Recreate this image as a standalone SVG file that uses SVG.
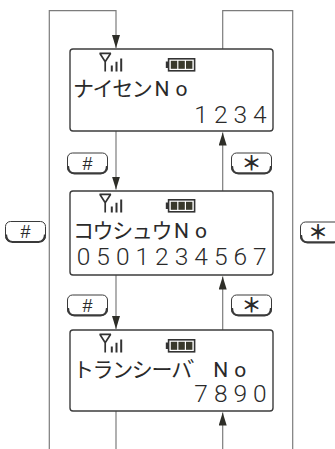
<svg xmlns="http://www.w3.org/2000/svg" xmlns:xlink="http://www.w3.org/1999/xlink" width="335" height="449" viewBox="0 0 335 449">
<style>
.box{fill:#fff;stroke:#3c3c3c;stroke-width:1.4}
.ln{fill:none;stroke:#7c7c7c;stroke-width:1.2}
.lcd{font-family:Roboto,"Noto Sans CJK JP",sans-serif;font-weight:400;fill:#2a2a2a;text-anchor:middle}
.t1{font-size:21px}
.dg{font-size:24.5px;font-weight:300}
.key{fill:#fff;stroke:#3a3a3a;stroke-width:1}
.keyb{fill:none;stroke:#3a3a3a;stroke-width:2}
.ks{font-family:"Liberation Sans","Noto Sans CJK JP",sans-serif;fill:#2a2a2a;text-anchor:middle}
.hs{font-size:18px}
.st{font-family:"Noto Sans CJK JP",sans-serif;font-size:20px;font-weight:700}
.ic{stroke:#333;stroke-width:1.7;fill:none}
</style>
<defs>
<marker id="ah" markerUnits="userSpaceOnUse" markerWidth="14" markerHeight="9" refX="13" refY="4" orient="auto">
<path d="M0,0 L13,4 L0,8 z" fill="#2e2e28"/>
</marker>
<g id="icons">
<path class="ic" d="M99.5,4.3 H111 M99.8,4.3 L105.2,12.8 L110.7,4.3 M105.2,12.8 V22.5"/>
<path d="M111.8,16.5 V22.5 M116.5,12.8 V22.5 M121.2,9.5 V22.5" stroke="#333" stroke-width="2" fill="none"/>
<rect x="165.8" y="12.5" width="2.8" height="6.5" fill="#333"/>
<rect x="168.6" y="9.8" width="26" height="12" fill="#fff" stroke="#333" stroke-width="1.6"/>
<rect x="170.8" y="11.8" width="6.4" height="8" fill="#3a3a2c"/>
<rect x="178.4" y="11.8" width="6.4" height="8" fill="#3a3a2c"/>
<rect x="186" y="11.8" width="6.4" height="8" fill="#3a3a2c"/>
</g>
<g id="keyshape">
<rect class="key" x="0" y="0" width="40" height="20" rx="5"/>
<path class="keyb" d="M0.6,13 Q0.8,20.3 7,20.5 H33 Q39.2,20.3 39.4,13"/>
</g>
</defs>
<rect width="335" height="449" fill="#fff"/>
<g id="connectors">
<path class="ln" d="M49.3,449 V10.7 H116 V48" marker-end="url(#ah)"/>
<path class="ln" d="M222.7,49 V10.7 H292.7 V449"/>
<path class="ln" d="M116,131 V189.5" marker-end="url(#ah)"/>
<path class="ln" d="M222.7,191 V132.5" marker-end="url(#ah)"/>
<path class="ln" d="M116,275 V329" marker-end="url(#ah)"/>
<path class="ln" d="M222.7,330 V276.5" marker-end="url(#ah)"/>
<path class="ln" d="M116,411 V449"/>
<path class="ln" d="M222.7,449 V412.5" marker-end="url(#ah)"/>
</g>
<g id="screen1">
<rect class="box" x="70" y="49" width="203" height="82" rx="3"/>
<use xlink:href="#icons" href="#icons" transform="translate(0,49)"/>
<text class="lcd t1" x="83.5 103.1 122.7 142.3 161.9 181.5" y="96">ナイセンNo</text>
<text class="lcd dg" x="201.1 220.7 240.3 259.9" y="123">1234</text>
</g>
<g id="screen2">
<rect class="box" x="70" y="191" width="203" height="84" rx="3"/>
<use xlink:href="#icons" href="#icons" transform="translate(0,190)"/>
<text class="lcd t1" x="83.5 103.1 122.7 142.3 161.9 181.5 201.1" y="238">コウシュウNo</text>
<text class="lcd dg" x="83.5 103.1 122.7 142.3 161.9 181.5 201.1 220.7 240.3 259.9" y="265">0501234567</text>
</g>
<g id="screen3">
<rect class="box" x="70" y="330" width="203" height="81" rx="3"/>
<use xlink:href="#icons" href="#icons" transform="translate(0,330)"/>
<text class="lcd t1" x="83.5 103.1 122.7 142.3 161.9 181.5 198 220.7 240.3" y="377">トランシーハ゛No</text>
<text class="lcd dg" x="201.1 220.7 240.3 259.9" y="402">7890</text>
</g>
<g id="key-hash1">
<use xlink:href="#keyshape" href="#keyshape" transform="translate(67.5,153)"/>
<text class="ks hs" x="87.5" y="169.5">#</text>
</g>
<g id="key-star1">
<use xlink:href="#keyshape" href="#keyshape" transform="translate(231.5,153)"/>
<text class="ks st" x="251.5" y="171">＊</text>
</g>
<g id="key-hash2">
<use xlink:href="#keyshape" href="#keyshape" transform="translate(5.5,221.5)"/>
<text class="ks hs" x="25.5" y="238">#</text>
</g>
<g id="key-star2">
<use xlink:href="#keyshape" href="#keyshape" transform="translate(300.5,222)"/>
<text class="ks st" x="318" y="240">＊</text>
</g>
<g id="key-hash3">
<use xlink:href="#keyshape" href="#keyshape" transform="translate(67.5,295)"/>
<text class="ks hs" x="87.5" y="311.5">#</text>
</g>
<g id="key-star3">
<use xlink:href="#keyshape" href="#keyshape" transform="translate(231.5,295)"/>
<text class="ks st" x="251.5" y="313">＊</text>
</g>
</svg>
